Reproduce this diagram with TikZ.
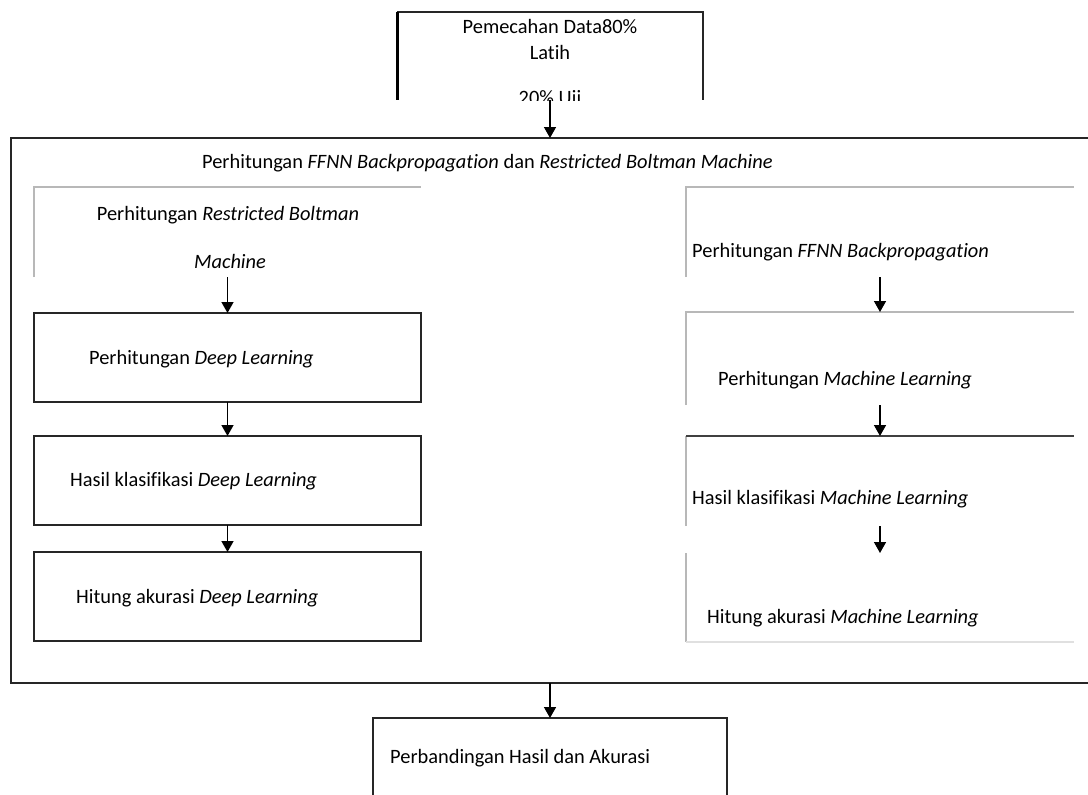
\documentclass[tikz,border=0pt]{standalone}
\usepackage{fontspec}
\setmainfont{Carlito}[Ligatures={NoCommon,NoContextual}]
\usetikzlibrary{arrows.meta}
\begin{document}
\begin{tikzpicture}[x=1pt,y=-1pt,
  boxshape/.style={rectangle, inner sep=0pt, outer sep=0pt, anchor=north west},
  lbl/.style={inner sep=0pt, anchor=base west, font=\fontsize{20.4}{26}\selectfont},
  clbl/.style={inner sep=0pt, anchor=base, font=\fontsize{20.4}{26}\selectfont},
  blk/.style={draw=black!85, line width=1.5pt},
  gry/.style={draw=black!28, line width=2.5pt},
  lgry/.style={draw=black!12, line width=1.5pt},
  arr/.style={-{Triangle[width=12pt,length=11pt]}, line width=1.5pt}]
\useasboundingbox (0,0) rectangle (1088,795);

% boxes
\node[boxshape, minimum width=306pt, minimum height=88pt] (top) at (397,12) {};
\node[boxshape, minimum width=1077pt, minimum height=545pt] (big) at (11,138) {};
\node[boxshape, minimum width=387pt, minimum height=90pt] (rbm) at (34,187) {};
\node[boxshape, minimum width=387pt, minimum height=89pt] (dl1) at (34,313) {};
\node[boxshape, minimum width=387pt, minimum height=89pt] (dl2) at (34,436) {};
\node[boxshape, minimum width=387pt, minimum height=89pt] (dl3) at (34,552) {};
\node[boxshape, minimum width=388pt, minimum height=90pt] (ffnn) at (686,187) {};
\node[boxshape, minimum width=388pt, minimum height=93pt] (ml1) at (686,312) {};
\node[boxshape, minimum width=388pt, minimum height=90pt] (ml2) at (686,436) {};
\node[boxshape, minimum width=388pt, minimum height=89pt] (ml3) at (686,553) {};
\node[boxshape, minimum width=354pt, minimum height=82pt] (fin) at (373,718) {};

% top box
\begin{scope}
\clip (top.north west) rectangle (top.south east);
\node[clbl] (t1) at (550,33) {Pemecahan Data80\%};
\node[clbl] (t2) at (550,59) {Latih};
\node[clbl] (t3) at (550,104) {20\% Uji};
\end{scope}
\draw[draw=black!85, line width=2pt] (top.north west) -- (top.north east) -- (top.south east);
\draw[draw=black, line width=3pt] (top.north west) -- (top.south west);

% big box
\draw[blk] (big.north east) -- (big.north west) -- (big.south west) -- (big.south east);
\node[lbl] (title) at (202,168) {Perhitungan \textit{FFNN Backpropagation} dan \textit{Restricted Boltman Machine}};

% left column
\draw[gry] (rbm.south west) -- (rbm.north west) -- (rbm.north east);
\node[clbl] (rbm1) at (228,220) {Perhitungan \textit{Restricted Boltman}};
\node[clbl] (rbm2) at (230,268) {\textit{Machine}};
\draw[blk] (dl1.north west) rectangle (dl1.south east);
\node[lbl] (dl1t) at (89,364) {Perhitungan \textit{Deep Learning}};
\draw[blk] (dl2.north west) rectangle (dl2.south east);
\node[lbl] (dl2t) at (70,486) {Hasil klasifikasi \textit{Deep Learning}};
\draw[blk] (dl3.north west) rectangle (dl3.south east);
\node[lbl] (dl3t) at (76,603) {Hitung akurasi \textit{Deep Learning}};

% right column
\draw[gry] (ffnn.south west) -- (ffnn.north west) -- (ffnn.north east);
\node[lbl] (ffnnt) at (692,257) {Perhitungan \textit{FFNN Backpropagation}};
\draw[gry] (ml1.south west) -- (ml1.north west) -- (ml1.north east);
\node[lbl] (ml1t) at (718,385) {Perhitungan \textit{Machine Learning}};
\draw[gry] (ml2.south west) -- (ml2.north west);
\draw[draw=black!75, line width=2pt] (ml2.north west) -- (ml2.north east);
\node[lbl] (ml2t) at (692,504) {Hasil klasifikasi \textit{Machine Learning}};
\draw[gry] (ml3.north west) -- (ml3.south west);
\draw[lgry] (ml3.south west) -- (ml3.south east);
\node[lbl] (ml3t) at (707,623) {Hitung akurasi \textit{Machine Learning}};

% final box
\draw[blk] (fin.south west) -- (fin.north west) -- (fin.north east) -- (fin.south east);
\node[lbl] (fint) at (390,763) {Perbandingan Hasil dan Akurasi};

% arrows
\draw[arr] (top.south) -- (top.south |- big.north);
\draw[arr] (rbm.south) -- (dl1.north);
\draw[arr] (dl1.south) -- (dl2.north);
\draw[arr] (dl2.south) -- (dl3.north);
\draw[arr] (ffnn.south) -- (ml1.north);
\draw[arr] (ml1.south) -- (ml2.north);
\draw[arr] (ml2.south) -- (ml3.north);
\draw[arr] (fin.north |- big.south) -- (fin.north);
\end{tikzpicture}
\end{document}
